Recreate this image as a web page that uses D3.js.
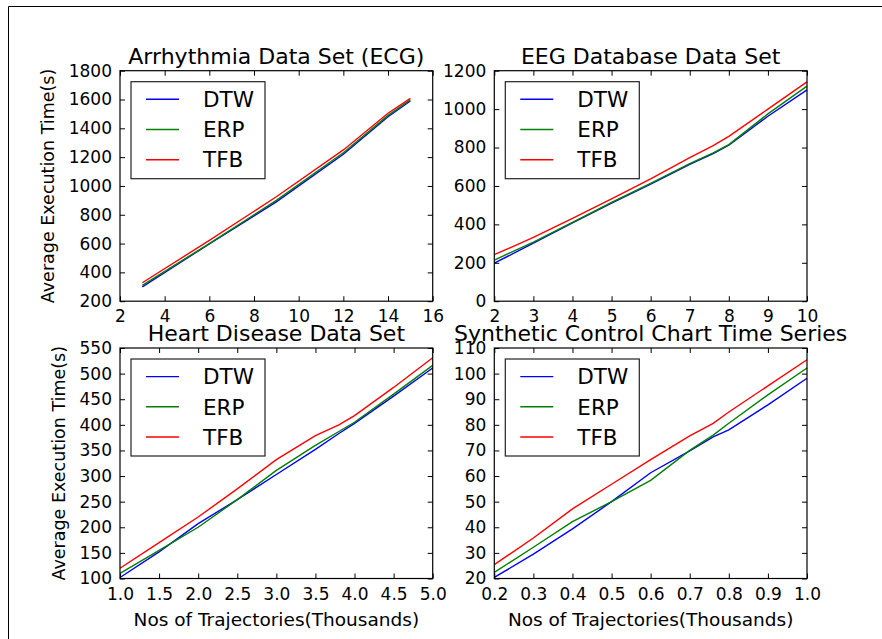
<!DOCTYPE html>
<html>
<head>
<meta charset="utf-8">
<script src="https://cdn.jsdelivr.net/npm/d3@7"></script>
<style>
  body { margin: 0; background: #fff; }
  svg text { font-family: "DejaVu Sans", sans-serif; fill: #000; }
</style>
</head>
<body>
<svg id="chart" width="882" height="639"></svg>
<script>
// series names + colours
const seriesNames = ["DTW", "ERP", "TFB"];
const seriesColors = ["#0000ff", "#008000", "#ff0000"];

// Arrhythmia (ECG)
const ecgX = [3, 6, 9, 12, 14, 15];
const ecgDTW = [300, 598, 890, 1220, 1480, 1590];
const ecgERP = [310, 600, 900, 1230, 1490, 1598];
const ecgTFB = [328, 622, 925, 1250, 1505, 1608];
const ecgXTicks = [2, 4, 6, 8, 10, 12, 14, 16];
const ecgYTicks = [200, 400, 600, 800, 1000, 1200, 1400, 1600, 1800];

// EEG database
const eegX = [2, 3, 4, 5, 6, 7, 7.6, 8, 9, 10];
const eegDTW = [198, 302, 408, 510, 610, 712, 768, 812, 963, 1100];
const eegERP = [214, 308, 410, 514, 614, 716, 772, 815, 975, 1120];
const eegTFB = [242, 332, 431, 533, 637, 748, 810, 858, 1000, 1142];
const eegXTicks = [2, 3, 4, 5, 6, 7, 8, 9, 10];
const eegYTicks = [0, 200, 400, 600, 800, 1000, 1200];

// Heart disease
const heartX = [1.0, 1.5, 2.0, 2.5, 3.0, 3.5, 3.8, 4.0, 4.5, 5.0];
const heartDTW = [102, 152, 207, 254, 303, 352, 383, 403, 456, 511];
const heartERP = [110, 155, 200, 254, 311, 360, 387, 405, 460, 516];
const heartTFB = [120, 170, 220, 275, 332, 379, 400, 418, 473, 531];
const heartXTicks = [1.0, 1.5, 2.0, 2.5, 3.0, 3.5, 4.0, 4.5, 5.0];
const heartYTicks = [100, 150, 200, 250, 300, 350, 400, 450, 500, 550];

// Synthetic control chart
const synX = [0.2, 0.3, 0.4, 0.5, 0.6, 0.7, 0.76, 0.8, 0.9, 1.0];
const synDTW = [20.4, 29.5, 39.4, 50, 61.3, 69.8, 75.3, 78, 87.8, 98.2];
const synERP = [22.4, 32.2, 42.2, 50, 58.3, 70, 76, 80.6, 91.7, 102.2];
const synTFB = [25.4, 35.8, 47.2, 56.8, 66.4, 75.7, 80.6, 85, 95.2, 105.4];
const synXTicks = [0.2, 0.3, 0.4, 0.5, 0.6, 0.7, 0.8, 0.9, 1.0];
const synYTicks = [20, 30, 40, 50, 60, 70, 80, 90, 100, 110];

const yLabel = "Average Execution Time(s)";
const xLabel = "Nos of Trajectories(Thousands)";

const svg = d3.select("#chart");

// figure frame (only top + left edges visible)
svg.append("line").attr("x1", 8.5).attr("x2", 882).attr("y1", 6.5).attr("y2", 6.5)
  .attr("stroke", "#000").attr("stroke-width", 1);
svg.append("line").attr("x1", 8.5).attr("x2", 8.5).attr("y1", 6.5).attr("y2", 639)
  .attr("stroke", "#000").attr("stroke-width", 1);

const W = 312.7, H = 230.5;
const panels = [
  { left: 120, top: 70.7, title: "Arrhythmia Data Set (ECG)", xs: ecgX, ys: [ecgDTW, ecgERP, ecgTFB],
    xd: [2, 16], yd: [200, 1800], xt: ecgXTicks, yt: ecgYTicks, xf: d3.format("d"), yLab: true, xLab: false },
  { left: 494.3, top: 70.7, title: "EEG Database Data Set", xs: eegX, ys: [eegDTW, eegERP, eegTFB],
    xd: [2, 10], yd: [0, 1200], xt: eegXTicks, yt: eegYTicks, xf: d3.format("d"), yLab: false, xLab: false },
  { left: 120, top: 348, title: "Heart Disease Data Set", xs: heartX, ys: [heartDTW, heartERP, heartTFB],
    xd: [1, 5], yd: [100, 550], xt: heartXTicks, yt: heartYTicks, xf: d3.format(".1f"), yLab: true, xLab: true },
  { left: 494.3, top: 348, title: "Synthetic Control Chart Time Series", xs: synX, ys: [synDTW, synERP, synTFB],
    xd: [0.2, 1.0], yd: [20, 110], xt: synXTicks, yt: synYTicks, xf: d3.format(".1f"), yLab: false, xLab: true }
];

panels.forEach(p => {
  const g = svg.append("g").attr("transform", `translate(${p.left},${p.top})`);
  const x = d3.scaleLinear().domain(p.xd).range([0, W]);
  const y = d3.scaleLinear().domain(p.yd).range([H, 0]);

  // lines
  const line = d3.line().x((d, i) => x(p.xs[i])).y(d => y(d));
  p.ys.forEach((vals, k) => {
    g.append("path").datum(vals)
      .attr("fill", "none")
      .attr("stroke", seriesColors[k])
      .attr("stroke-width", 1.4)
      .attr("d", line);
  });

  // axes, inward ticks on all sides
  const bottom = g.append("g").attr("transform", `translate(0,${H})`)
    .call(d3.axisBottom(x).tickValues(p.xt).tickFormat(p.xf).tickSizeInner(-5).tickSizeOuter(0).tickPadding(9));
  const leftAx = g.append("g")
    .call(d3.axisLeft(y).tickValues(p.yt).tickFormat(d3.format("d")).tickSizeInner(-5).tickSizeOuter(0).tickPadding(8));
  g.append("g").call(d3.axisTop(x).tickValues(p.xt).tickSizeInner(-5).tickSizeOuter(0).tickFormat(""));
  g.append("g").attr("transform", `translate(${W},0)`)
    .call(d3.axisRight(y).tickValues(p.yt).tickSizeInner(-5).tickSizeOuter(0).tickFormat(""));
  g.selectAll(".domain").remove();
  g.selectAll(".tick line").attr("stroke", "#000");
  bottom.selectAll("text").attr("font-size", 17).attr("fill", "#000");
  leftAx.selectAll("text").attr("font-size", 17).attr("fill", "#000");

  // frame
  g.append("rect").attr("width", W).attr("height", H)
    .attr("fill", "none").attr("stroke", "#000").attr("stroke-width", 1.2);

  // title
  g.append("text").attr("x", W / 2).attr("y", -7)
    .attr("text-anchor", "middle").attr("font-size", 22).text(p.title);

  // legend
  const lg = g.append("g").attr("transform", "translate(11,11)");
  lg.append("rect").attr("width", 134).attr("height", 97)
    .attr("fill", "#fff").attr("stroke", "#222").attr("stroke-width", 1.2);
  seriesNames.forEach((name, k) => {
    const yy = 17.6 + k * 30.2;
    lg.append("line").attr("x1", 15).attr("x2", 48).attr("y1", yy).attr("y2", yy)
      .attr("stroke", seriesColors[k]).attr("stroke-width", 1.4);
    lg.append("text").attr("x", 72).attr("y", yy).attr("dy", "0.36em")
      .attr("font-size", 21.5).text(name);
  });

  if (p.yLab) {
    const bb = leftAx.node().getBBox();
    g.append("text")
      .attr("transform", `translate(${bb.x - 15},${H / 2}) rotate(-90)`)
      .attr("text-anchor", "middle").attr("font-size", 17.5).text(yLabel);
  }
  if (p.xLab) {
    g.append("text").attr("x", W / 2).attr("y", H + 47)
      .attr("text-anchor", "middle").attr("font-size", 18.5).text(xLabel);
  }
});
</script>
</body>
</html>
